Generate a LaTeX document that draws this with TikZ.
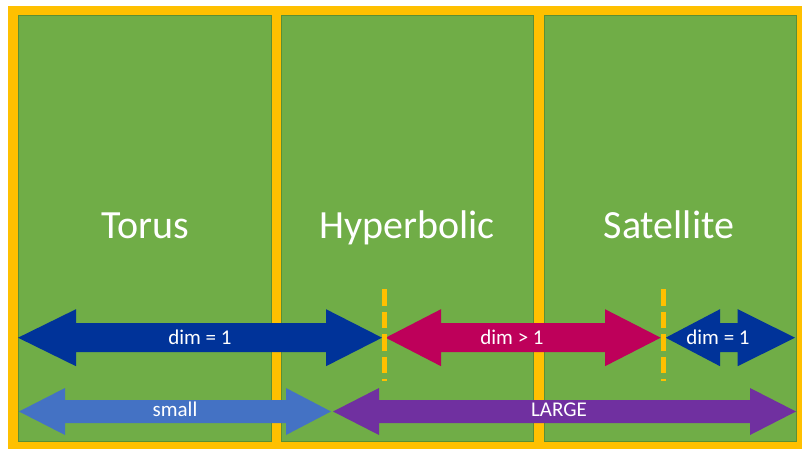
\documentclass[tikz,border=0pt]{standalone}
\usepackage{fontspec}
\setmainfont{Carlito}
\definecolor{ygold}{HTML}{FFC000}
\definecolor{pgreen}{HTML}{70AD47}
\definecolor{pedge}{HTML}{5B8F34}
\definecolor{dblue}{HTML}{003399}
\definecolor{mag}{HTML}{BE005A}
\definecolor{lblue}{HTML}{4472C4}
\definecolor{purp}{HTML}{7030A0}
\tikzset{
  panel/.style={fill=pgreen, draw=pedge, line width=0.8pt},
  bigtext/.style={text=white, font=\fontsize{40}{46}\selectfont, anchor=base, inner sep=0pt},
  arrtext/.style={text=white, font=\fontsize{21}{25}\selectfont, anchor=base, inner sep=0pt},
  ydash/.style={draw=ygold, line width=5pt, dash pattern=on 16.6pt off 5.8pt},
}
% \dblarr{color}{tipL}{baseL}{baseR}{tipR}{yc}{headhalf}{shafthalf}
\newcommand{\dblarr}[8]{%
  \fill[#1] (#2,#6) -- (#3,#6-#7) -- (#3,#6-#8) -- (#4,#6-#8) -- (#4,#6-#7) -- (#5,#6)
    -- (#4,#6+#7) -- (#4,#6+#8) -- (#3,#6+#8) -- (#3,#6+#7) -- cycle;}
\begin{document}
\begin{tikzpicture}[x=1pt,y=-1pt]
\useasboundingbox (0,0) rectangle (802,449);
\fill[ygold] (8,6) rectangle (802,449);
\draw[panel] (18,15) rectangle (271,441);
\draw[panel] (281,15) rectangle (533,441);
\draw[panel] (544,15) rectangle (796,441);
\node[bigtext] (torus) at (145,238) {Torus};
\node[bigtext] (hyper) at (407,238) {Hyperbolic};
\node[bigtext] (sat) at (669,238) {Satellite};
% top arrows
\dblarr{dblue}{18}{76}{326}{382}{337.7}{28.5}{14.5}
\dblarr{mag}{385.7}{441}{605}{660.7}{337.7}{28.5}{14.5}
\dblarr{dblue}{665.7}{720}{737.7}{795}{337.7}{28.5}{14.5}
% bottom arrows
\dblarr{lblue}{19}{65}{286}{331}{411.5}{23.5}{11.5}
\dblarr{purp}{333}{379}{750}{796}{411.5}{23.5}{11.5}
% dashed separators
\coordinate (d1a) at (384,289.3);
\coordinate (d1b) at (384,381);
\coordinate (d2a) at (663,289.3);
\coordinate (d2b) at (663,381);
\draw[ydash] (d1a) -- (d1b);
\draw[ydash] (d2a) -- (d2b);
% labels
\node[arrtext] (l1) at (200,344.3) {dim = 1};
\node[arrtext] (l2) at (512,344.3) {dim > 1};
\node[arrtext] (l3) at (718,344.3) {dim = 1};
\node[arrtext] (l4) at (175,416.7) {small};
\node[arrtext] (l5) at (559,416.7) {LARGE};
\end{tikzpicture}
\end{document}
